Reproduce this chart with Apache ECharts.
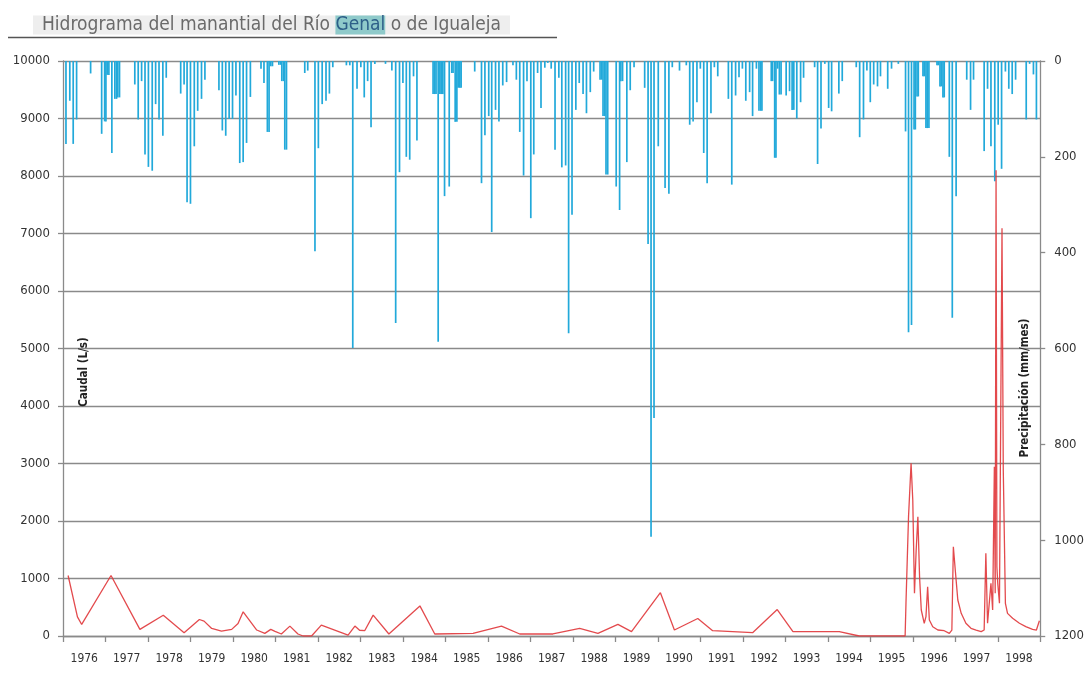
<!DOCTYPE html>
<html>
<head>
<meta charset="utf-8">
<script src="https://cdn.jsdelivr.net/npm/echarts@6/dist/echarts.min.js"></script>
<style>
html,body{margin:0;padding:0;background:#fff;}
#c{width:1087px;height:673px;}
</style>
</head>
<body>
<div id="c"></div>
<script>
// Year tick labels (category labels centred in each year)
const yearLabels = ['1976','1977','1978','1979','1980','1981','1982','1983','1984','1985','1986','1987','1988','1989','1990','1991','1992','1993','1994','1995','1996','1997','1998'];

// Precipitation (mm/mes), hanging bars on the inverted right axis
const precipYear = [1976.07,1976.16,1976.24,1976.32,1976.65,1976.91,1976.98,1977.01,1977.04,1977.08,1977.15,1977.22,1977.26,1977.29,1977.33,1977.69,1977.77,1977.85,1977.93,1978.01,1978.10,1978.18,1978.26,1978.35,1978.43,1978.77,1978.85,1978.92,1979.00,1979.09,1979.17,1979.26,1979.34,1979.67,1979.75,1979.83,1979.91,1979.99,1980.07,1980.16,1980.24,1980.32,1980.41,1980.66,1980.73,1980.81,1980.85,1980.89,1980.93,1981.08,1981.12,1981.15,1981.19,1981.22,1981.26,1981.69,1981.76,1981.93,1982.01,1982.10,1982.19,1982.27,1982.35,1982.67,1982.75,1982.82,1982.92,1983.01,1983.09,1983.17,1983.25,1983.34,1983.59,1983.74,1983.83,1983.92,1984.00,1984.08,1984.16,1984.25,1984.33,1984.71,1984.75,1984.78,1984.83,1984.87,1984.90,1984.94,1984.98,1985.09,1985.15,1985.18,1985.23,1985.27,1985.30,1985.34,1985.37,1985.69,1985.85,1985.93,1986.02,1986.09,1986.18,1986.26,1986.35,1986.44,1986.59,1986.67,1986.75,1986.84,1986.92,1987.01,1987.08,1987.17,1987.25,1987.34,1987.41,1987.49,1987.58,1987.67,1987.74,1987.83,1987.90,1987.98,1988.07,1988.15,1988.24,1988.32,1988.41,1988.49,1988.64,1988.68,1988.71,1988.75,1988.78,1988.82,1989.02,1989.10,1989.13,1989.17,1989.27,1989.35,1989.44,1989.69,1989.77,1989.84,1989.91,1990.01,1990.17,1990.26,1990.34,1990.51,1990.67,1990.75,1990.83,1990.92,1991.00,1991.08,1991.16,1991.25,1991.33,1991.41,1991.66,1991.74,1991.83,1991.91,1991.99,1992.07,1992.16,1992.23,1992.32,1992.38,1992.42,1992.45,1992.67,1992.70,1992.75,1992.78,1992.82,1992.86,1992.90,1993.02,1993.10,1993.16,1993.20,1993.27,1993.36,1993.43,1993.69,1993.76,1993.84,1993.93,1994.02,1994.09,1994.26,1994.34,1994.67,1994.75,1994.84,1994.92,1995.00,1995.08,1995.17,1995.24,1995.41,1995.50,1995.66,1995.83,1995.90,1995.97,1996.03,1996.06,1996.10,1996.13,1996.24,1996.27,1996.31,1996.34,1996.38,1996.57,1996.60,1996.64,1996.67,1996.71,1996.74,1996.86,1996.93,1997.02,1997.27,1997.36,1997.43,1997.68,1997.76,1997.84,1997.93,1998.01,1998.09,1998.18,1998.26,1998.34,1998.42,1998.67,1998.75,1998.84,1998.91];
const precipMm = [173,83,173,122,26,152,126,126,29,29,192,79,79,76,76,49,122,42,195,221,229,90,122,156,35,68,49,295,298,178,104,79,39,61,145,156,121,121,72,213,211,171,75,16,46,148,148,11,11,8,8,42,42,185,185,25,20,397,182,90,83,68,13,9,9,599,58,13,76,42,138,6,6,20,547,232,46,200,206,32,166,69,69,69,586,69,69,69,282,262,25,25,127,127,56,56,56,22,255,155,115,357,102,126,51,44,9,39,148,239,42,328,195,25,98,14,4,16,185,35,222,218,568,321,102,46,69,109,65,22,39,39,115,115,237,237,262,311,42,42,211,61,13,56,382,993,745,178,265,277,13,20,9,133,126,86,16,192,255,109,13,32,79,258,72,34,16,83,65,115,16,104,104,104,42,42,202,202,16,70,70,72,63,102,102,120,86,35,13,215,141,6,98,105,68,42,13,159,122,20,86,49,53,32,58,16,6,147,566,551,143,143,74,74,32,32,140,140,140,9,9,53,53,76,76,200,536,282,39,102,39,188,58,178,251,133,225,22,58,69,39,122,6,28,122];

// Caudal (L/s), line on the left axis
const caudalYear = [1976.12,1976.34,1976.44,1977.13,1977.81,1978.36,1978.85,1979.21,1979.32,1979.50,1979.73,1979.97,1980.12,1980.24,1980.56,1980.75,1980.89,1980.99,1981.14,1981.34,1981.53,1981.65,1981.85,1982.08,1982.71,1982.87,1982.98,1983.10,1983.30,1983.67,1984.40,1984.75,1985.65,1986.32,1986.75,1987.53,1988.16,1988.59,1989.06,1989.38,1990.06,1990.39,1990.94,1991.29,1992.23,1992.81,1993.18,1994.27,1994.74,1995.82,1995.84,1995.90,1995.96,1996.00,1996.04,1996.08,1996.12,1996.16,1996.20,1996.27,1996.31,1996.35,1996.39,1996.47,1996.59,1996.74,1996.86,1996.92,1996.955,1997.00,1997.06,1997.14,1997.25,1997.37,1997.49,1997.61,1997.68,1997.72,1997.76,1997.84,1997.88,1997.92,1997.94,1997.96,1997.98,1998.00,1998.04,1998.10,1998.13,1998.18,1998.23,1998.35,1998.51,1998.66,1998.82,1998.91,1998.98];
const caudalLs = [1052,333,201,1052,115,362,57,287,259,132,86,115,218,420,104,46,115,80,35,172,35,0,0,190,17,172,100,92,362,35,523,35,46,172,35,35,132,46,201,75,753,104,305,92,58,460,75,75,0,0,569,2075,3003,2365,742,1496,2075,1031,452,221,336,857,278,162,104,92,46,104,1553,1148,626,394,221,134,104,75,104,1438,221,916,452,2944,742,8100,1200,916,569,7090,2887,569,394,308,221,162,116,104,266];

const FONT = '"DejaVu Sans Condensed","Liberation Sans Narrow","DejaVu Sans",sans-serif';
const GRID_C = '#8a8a8a';
const plain = v => String(v);

const chart = echarts.init(document.getElementById('c'), null, {renderer: 'canvas'});
chart.setOption({
  animation: false,
  backgroundColor: '#fff',
  title: {
    left: 33, top: 13,
    padding: [0, 9, 0, 9],
    backgroundColor: '#eeeeee',
    text: '{a|Hidrograma del manantial del Río }{b|Genal}{a| o de Igualeja}',
    textStyle: {
      fontWeight: 'normal',
      rich: {
        a: {fontFamily: FONT, fontSize: 19, fontWeight: 'normal', color: '#6a6a6a', lineHeight: 24},
        b: {fontFamily: FONT, fontSize: 19, fontWeight: 'normal', color: '#2d5f88', lineHeight: 24, backgroundColor: '#8fcaca'}
      }
    }
  },
  graphic: [
    {type: 'line', shape: {x1: 8, y1: 37.5, x2: 557, y2: 37.5}, style: {stroke: '#555', lineWidth: 1.5}, z: 10},
    {type: 'text', x: 84, y: 372, rotation: Math.PI / 2,
      style: {text: 'Caudal (L/s)', fontFamily: FONT, fontSize: 11.5, fontWeight: 'bold', fill: '#222', align: 'center', verticalAlign: 'middle'}, z: 10},
    {type: 'text', x: 1025, y: 388, rotation: Math.PI / 2,
      style: {text: 'Precipitación (mm/mes)', fontFamily: FONT, fontSize: 11.5, fontWeight: 'bold', fill: '#222', align: 'center', verticalAlign: 'middle'}, z: 10}
  ],
  grid: {left: 63, right: 46, top: 61, bottom: 37, containLabel: false},
  xAxis: [
    {type: 'value', min: 1976, max: 1999, interval: 1,
      axisLine: {show: true, onZero: false, lineStyle: {color: GRID_C, width: 1.3}},
      axisTick: {show: true, length: 6, lineStyle: {color: GRID_C, width: 1.3}},
      axisLabel: {show: false}, splitLine: {show: false}},
    {type: 'category', data: yearLabels, boundaryGap: true, position: 'bottom',
      axisLine: {show: false}, axisTick: {show: false}, splitLine: {show: false},
      axisLabel: {margin: 17, fontFamily: FONT, fontSize: 12, color: '#333', interval: 0}}
  ],
  yAxis: [
    {type: 'value', min: 0, max: 10000, interval: 1000, position: 'left',
      axisLine: {show: true, lineStyle: {color: GRID_C, width: 1.3}},
      axisTick: {show: true, length: 5, lineStyle: {color: GRID_C, width: 1.3}},
      axisLabel: {margin: 13, fontFamily: FONT, fontSize: 13, color: '#333', formatter: plain},
      splitLine: {show: true, lineStyle: {color: GRID_C, width: 1.3}}},
    {type: 'value', min: 0, max: 1200, interval: 200, inverse: true, position: 'right',
      axisLine: {show: true, lineStyle: {color: GRID_C, width: 1.3}},
      axisTick: {show: true, length: 5, lineStyle: {color: GRID_C, width: 1.3}},
      axisLabel: {margin: 14, fontFamily: FONT, fontSize: 13, color: '#333', formatter: plain},
      splitLine: {show: false}}
  ],
  series: [
    {type: 'bar', name: 'Precipitación', xAxisIndex: 0, yAxisIndex: 1,
      barWidth: 1.7, barGap: '0%',
      itemStyle: {color: '#22a9da'},
      data: precipYear.map((y, i) => [y, precipMm[i]]), z: 2},
    {type: 'line', name: 'Caudal', xAxisIndex: 0, yAxisIndex: 0,
      showSymbol: false, symbol: 'none',
      lineStyle: {color: '#e0363a', width: 1.3, opacity: 0.9},
      data: caudalYear.map((y, i) => [y, caudalLs[i]]), z: 3}
  ]
});
</script>
</body>
</html>
